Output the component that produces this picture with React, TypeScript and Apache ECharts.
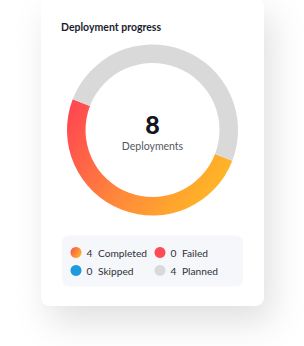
import React, { useEffect, useRef } from "react";
import * as echarts from "echarts";

const title = "Deployment progress";
const totalLabel = "Deployments";
const categories = ["Completed", "Failed", "Skipped", "Planned"];
const values = [4, 0, 0, 4];
const legendCol1 = ["Completed", "Skipped"];
const legendCol2 = ["Failed", "Planned"];

const FONT = "Lato, 'Noto Sans', sans-serif";

export default function App() {
  const ref = useRef<HTMLDivElement>(null);
  useEffect(() => {
    if (!ref.current) return;
    const chart = echarts.init(ref.current, undefined, { renderer: "svg" });
    const gradient = new echarts.graphic.LinearGradient(0, 0.2, 1, 0.6, [
      { offset: 0, color: "#FF4A50" },
      { offset: 0.5, color: "#FF8A3A" },
      { offset: 1, color: "#FFB726" },
    ]);
    const dotGradient = new echarts.graphic.LinearGradient(0, 0, 1, 0.6, [
      { offset: 0, color: "#FF4A50" },
      { offset: 1, color: "#FFB02A" },
    ]);
    const colors: Record<string, any> = {
      Completed: gradient,
      Failed: "#FF4B55",
      Skipped: "#1E9BDB",
      Planned: "#D9D9D9",
    };
    const total = values.reduce((a, b) => a + b, 0);
    const valOf = (n: string) => values[categories.indexOf(n)];
    const legendBase = {
      orient: "vertical",
      icon: "circle",
      itemWidth: 11,
      itemHeight: 11,
      itemGap: 6,
      padding: 0,
      selectedMode: false,
      textStyle: {
        fontFamily: FONT,
        fontSize: 10.2,
        color: "#2E3038",
        lineHeight: 12,
        rich: {
          v: { fontFamily: FONT, fontSize: 10.2, color: "#2E3038", width: 11.5 },
          n: { fontFamily: FONT, fontSize: 10.2, color: "#2E3038" },
        },
      },
      formatter: (n: string) => `{v|${valOf(n)}}{n|${n}}`,
    };
    chart.setOption({
      animation: false,
      graphic: [
        {
          type: "rect",
          z: 0,
          shape: { x: 41, y: -2, width: 223, height: 308, r: 9 },
          style: {
            fill: "#FFFFFF",
            shadowBlur: 34,
            shadowOffsetX: 8,
            shadowOffsetY: 16,
            shadowColor: "rgba(0,0,0,0.12)",
          },
        },
        {
          type: "rect",
          z: 1,
          shape: { x: 62, y: 235.5, width: 181, height: 51, r: 7 },
          style: { fill: "#F6F7FA" },
        },
        {
          type: "text",
          z: 3,
          left: 61,
          top: 21,
          style: { text: title, fontFamily: FONT, fontWeight: "bold", fontSize: 10.5, fill: "#1B1D2E" },
        },
        {
          type: "text",
          z: 3,
          x: 152.5,
          y: 124,
          style: {
            text: String(total),
            fontFamily: FONT,
            fontWeight: 900,
            fontSize: 25,
            fill: "#15161C",
            textAlign: "center",
            textVerticalAlign: "middle",
          },
        },
        {
          type: "text",
          z: 3,
          x: 152.5,
          y: 146,
          style: {
            text: totalLabel,
            fontFamily: FONT,
            fontSize: 10.5,
            fill: "#55575F",
            textAlign: "center",
            textVerticalAlign: "middle",
          },
        },
      ],
      legend: [
        { ...legendBase, left: 70.5, top: 246.5, data: legendCol1.map((n) => ({ name: n, itemStyle: n === "Completed" ? { color: dotGradient } : undefined })) },
        { ...legendBase, left: 154.5, top: 246.5, data: legendCol2 },
      ],
      series: [
        {
          type: "pie",
          center: [152.5, 130],
          radius: [67, 85.5],
          startAngle: 339,
          clockwise: true,
          silent: true,
          label: { show: false },
          labelLine: { show: false },
          emphasis: { disabled: true },
          itemStyle: { borderWidth: 0 },
          data: categories.map((c, i) => ({
            name: c,
            value: values[i],
            itemStyle: { color: colors[c] },
          })),
        },
      ],
    });
    return () => chart.dispose();
  }, []);
  return (
    <div
      ref={ref}
      style={{ position: "fixed", left: 0, top: 0, width: 304, height: 346, background: "#FFFFFF" }}
    />
  );
}
